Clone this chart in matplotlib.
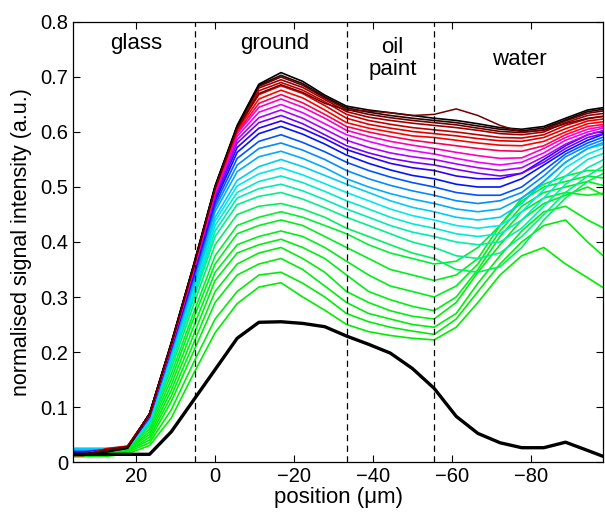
import matplotlib
matplotlib.use("Agg")
import matplotlib.pyplot as plt
import numpy as np
from matplotlib.colors import LinearSegmentedColormap

plt.rcParams['font.family'] = ['Liberation Sans', 'DejaVu Sans']

# sample positions (um)
positions = [38.8, 33.3, 27.7, 22.2, 16.6, 11.1, 5.5, 0.0, -5.6, -11.1, -16.7, -22.2, -27.8,
             -33.3, -38.9, -44.4, -50.0, -55.5, -61.1, -66.6, -72.2, -77.7, -83.3, -88.8, -94.4, -99.9]

# profiles, from lowest (green) to highest (black)
green_curves = [
    [0.010, 0.010, 0.010, 0.015, 0.030, 0.080, 0.160, 0.235, 0.288, 0.318, 0.326, 0.300, 0.276, 0.250, 0.237, 0.230, 0.225, 0.222, 0.245, 0.290, 0.340, 0.375, 0.390, 0.360, 0.335, 0.310],
    [0.010, 0.010, 0.012, 0.018, 0.035, 0.095, 0.180, 0.260, 0.310, 0.340, 0.345, 0.325, 0.300, 0.270, 0.255, 0.245, 0.238, 0.232, 0.260, 0.310, 0.360, 0.400, 0.430, 0.440, 0.400, 0.365],
    [0.012, 0.012, 0.012, 0.020, 0.040, 0.110, 0.200, 0.290, 0.340, 0.360, 0.370, 0.350, 0.320, 0.290, 0.270, 0.260, 0.250, 0.245, 0.270, 0.325, 0.375, 0.420, 0.455, 0.465, 0.440, 0.420],
    [0.012, 0.012, 0.014, 0.020, 0.045, 0.120, 0.215, 0.310, 0.360, 0.380, 0.390, 0.370, 0.345, 0.310, 0.290, 0.275, 0.265, 0.260, 0.290, 0.345, 0.395, 0.440, 0.470, 0.485, 0.500, 0.480],
    [0.014, 0.014, 0.015, 0.022, 0.050, 0.130, 0.230, 0.330, 0.380, 0.395, 0.405, 0.390, 0.370, 0.340, 0.310, 0.295, 0.283, 0.275, 0.300, 0.350, 0.410, 0.455, 0.480, 0.490, 0.485, 0.490],
    [0.015, 0.015, 0.016, 0.022, 0.055, 0.140, 0.245, 0.345, 0.395, 0.410, 0.420, 0.410, 0.390, 0.365, 0.340, 0.320, 0.310, 0.300, 0.320, 0.360, 0.420, 0.465, 0.490, 0.500, 0.510, 0.500],
    [0.016, 0.016, 0.018, 0.024, 0.060, 0.150, 0.260, 0.360, 0.415, 0.430, 0.440, 0.430, 0.410, 0.390, 0.370, 0.350, 0.340, 0.330, 0.340, 0.370, 0.430, 0.475, 0.500, 0.510, 0.520, 0.515],
    [0.018, 0.017, 0.018, 0.025, 0.065, 0.160, 0.270, 0.375, 0.430, 0.445, 0.455, 0.445, 0.430, 0.415, 0.395, 0.380, 0.370, 0.360, 0.365, 0.390, 0.430, 0.480, 0.505, 0.520, 0.530, 0.530],
]
cyan_curves = [
    [0.018, 0.018, 0.020, 0.025, 0.068, 0.170, 0.285, 0.395, 0.450, 0.465, 0.470, 0.460, 0.445, 0.425, 0.410, 0.395, 0.380, 0.370, 0.350, 0.345, 0.355, 0.390, 0.440, 0.480, 0.510, 0.530],
    [0.020, 0.020, 0.020, 0.026, 0.070, 0.178, 0.295, 0.410, 0.468, 0.483, 0.490, 0.478, 0.462, 0.445, 0.430, 0.415, 0.400, 0.390, 0.375, 0.370, 0.380, 0.410, 0.450, 0.490, 0.520, 0.545],
    [0.022, 0.022, 0.022, 0.026, 0.072, 0.183, 0.300, 0.420, 0.480, 0.497, 0.505, 0.493, 0.477, 0.460, 0.445, 0.430, 0.418, 0.410, 0.400, 0.395, 0.400, 0.425, 0.465, 0.505, 0.535, 0.555],
    [0.024, 0.023, 0.023, 0.027, 0.074, 0.188, 0.305, 0.430, 0.490, 0.510, 0.520, 0.508, 0.492, 0.475, 0.460, 0.445, 0.433, 0.425, 0.415, 0.410, 0.415, 0.440, 0.480, 0.520, 0.550, 0.565],
    [0.025, 0.024, 0.024, 0.027, 0.076, 0.192, 0.312, 0.438, 0.502, 0.524, 0.535, 0.522, 0.506, 0.490, 0.475, 0.460, 0.448, 0.440, 0.430, 0.425, 0.430, 0.455, 0.495, 0.535, 0.560, 0.575],
    [0.025, 0.025, 0.025, 0.028, 0.078, 0.196, 0.318, 0.445, 0.512, 0.537, 0.550, 0.537, 0.521, 0.505, 0.490, 0.475, 0.463, 0.455, 0.445, 0.440, 0.445, 0.470, 0.510, 0.545, 0.570, 0.580],
]
blue_curves = [
    [0.022, 0.021, 0.022, 0.026, 0.080, 0.200, 0.325, 0.455, 0.528, 0.555, 0.565, 0.552, 0.535, 0.515, 0.500, 0.488, 0.478, 0.470, 0.460, 0.455, 0.460, 0.480, 0.510, 0.545, 0.570, 0.585],
    [0.020, 0.020, 0.022, 0.026, 0.081, 0.203, 0.330, 0.462, 0.540, 0.570, 0.580, 0.567, 0.550, 0.530, 0.515, 0.503, 0.493, 0.485, 0.475, 0.470, 0.475, 0.490, 0.520, 0.555, 0.575, 0.590],
    [0.019, 0.019, 0.022, 0.026, 0.082, 0.205, 0.335, 0.468, 0.552, 0.583, 0.595, 0.581, 0.564, 0.545, 0.530, 0.518, 0.508, 0.500, 0.490, 0.485, 0.485, 0.500, 0.530, 0.560, 0.580, 0.595],
    [0.018, 0.018, 0.022, 0.026, 0.083, 0.207, 0.338, 0.474, 0.563, 0.597, 0.610, 0.596, 0.578, 0.558, 0.543, 0.531, 0.521, 0.515, 0.505, 0.500, 0.500, 0.515, 0.540, 0.565, 0.585, 0.600],
    [0.017, 0.017, 0.022, 0.026, 0.084, 0.209, 0.341, 0.479, 0.572, 0.607, 0.620, 0.606, 0.588, 0.568, 0.555, 0.543, 0.535, 0.530, 0.520, 0.515, 0.515, 0.525, 0.550, 0.575, 0.595, 0.605],
]
magenta_curves = [
    [0.016, 0.016, 0.021, 0.027, 0.085, 0.210, 0.344, 0.483, 0.580, 0.617, 0.630, 0.615, 0.595, 0.575, 0.562, 0.552, 0.545, 0.540, 0.532, 0.525, 0.520, 0.525, 0.545, 0.570, 0.590, 0.600],
    [0.015, 0.015, 0.021, 0.027, 0.085, 0.211, 0.346, 0.487, 0.586, 0.626, 0.640, 0.625, 0.605, 0.585, 0.572, 0.562, 0.555, 0.550, 0.542, 0.535, 0.530, 0.535, 0.555, 0.578, 0.595, 0.605],
    [0.015, 0.015, 0.022, 0.027, 0.086, 0.212, 0.348, 0.490, 0.592, 0.636, 0.650, 0.635, 0.615, 0.595, 0.583, 0.573, 0.566, 0.560, 0.552, 0.545, 0.540, 0.545, 0.562, 0.585, 0.600, 0.610],
    [0.014, 0.014, 0.022, 0.028, 0.086, 0.213, 0.350, 0.493, 0.597, 0.645, 0.660, 0.645, 0.625, 0.603, 0.592, 0.583, 0.576, 0.570, 0.563, 0.557, 0.552, 0.553, 0.570, 0.590, 0.605, 0.612],
]
red_curves = [
    [0.013, 0.013, 0.022, 0.028, 0.086, 0.214, 0.352, 0.495, 0.600, 0.652, 0.668, 0.653, 0.632, 0.610, 0.600, 0.592, 0.585, 0.580, 0.575, 0.570, 0.566, 0.565, 0.575, 0.595, 0.610, 0.615],
    [0.012, 0.012, 0.023, 0.028, 0.087, 0.214, 0.353, 0.497, 0.603, 0.660, 0.676, 0.662, 0.640, 0.617, 0.607, 0.600, 0.593, 0.590, 0.585, 0.580, 0.576, 0.575, 0.583, 0.600, 0.615, 0.620],
    [0.012, 0.012, 0.024, 0.029, 0.087, 0.215, 0.354, 0.498, 0.606, 0.668, 0.684, 0.670, 0.648, 0.625, 0.614, 0.607, 0.601, 0.597, 0.593, 0.588, 0.584, 0.583, 0.590, 0.606, 0.620, 0.625],
    [0.012, 0.012, 0.023, 0.028, 0.087, 0.215, 0.355, 0.499, 0.608, 0.675, 0.690, 0.676, 0.655, 0.632, 0.621, 0.614, 0.608, 0.604, 0.600, 0.595, 0.590, 0.589, 0.595, 0.612, 0.624, 0.630],
]
black_curves = [
    [0.013, 0.013, 0.021, 0.027, 0.087, 0.215, 0.355, 0.500, 0.609, 0.680, 0.695, 0.681, 0.659, 0.637, 0.627, 0.621, 0.616, 0.612, 0.608, 0.603, 0.597, 0.595, 0.600, 0.617, 0.630, 0.635],
    [0.013, 0.013, 0.020, 0.026, 0.088, 0.216, 0.356, 0.500, 0.610, 0.683, 0.700, 0.685, 0.662, 0.641, 0.632, 0.626, 0.621, 0.617, 0.613, 0.607, 0.601, 0.599, 0.604, 0.620, 0.634, 0.640],
    [0.014, 0.014, 0.019, 0.025, 0.088, 0.216, 0.356, 0.501, 0.611, 0.685, 0.703, 0.688, 0.664, 0.644, 0.636, 0.630, 0.625, 0.621, 0.617, 0.611, 0.605, 0.602, 0.607, 0.622, 0.637, 0.643],
    [0.015, 0.015, 0.018, 0.025, 0.088, 0.217, 0.357, 0.502, 0.612, 0.687, 0.708, 0.692, 0.667, 0.647, 0.640, 0.635, 0.630, 0.625, 0.621, 0.615, 0.608, 0.605, 0.610, 0.625, 0.640, 0.646],
]
odd_curve = [0.013, 0.013, 0.022, 0.028, 0.087, 0.215, 0.354, 0.498, 0.606, 0.670, 0.686, 0.672, 0.652, 0.640, 0.638, 0.635, 0.630, 0.632, 0.642, 0.630, 0.612, 0.600, 0.603, 0.615, 0.625, 0.630]
dry_curve = [0.014, 0.014, 0.014, 0.014, 0.014, 0.055, 0.112, 0.168, 0.225, 0.254, 0.255, 0.252, 0.246, 0.229, 0.214, 0.198, 0.170, 0.134, 0.083, 0.052, 0.035, 0.026, 0.026, 0.036, 0.021, 0.006]

boundaries = [5.0, -33.5, -55.5]
layer_names = ["glass", "ground", "oil\npaint", "water"]
layer_x = [20, -15, -45, -77]
layer_y = [0.76, 0.76, 0.733, 0.731]

cmap = LinearSegmentedColormap.from_list("wet", [
    (0.00, "#00ee00"), (0.22, "#00f020"), (0.30, "#00f090"), (0.40, "#00e8f0"),
    (0.50, "#0090ff"), (0.58, "#0000ff"), (0.64, "#8000ff"), (0.71, "#ff00ff"),
    (0.80, "#ff0000"), (0.90, "#a00000"), (1.00, "#000000")])

curves = green_curves + cyan_curves + blue_curves + magenta_curves + red_curves + black_curves
colors = cmap(np.linspace(0, 1, len(curves)))

fig = plt.figure(figsize=(6.05, 5.15), dpi=100)
ax = fig.add_axes([0.1207, 0.1029, 0.876, 0.8544])

for c, col in zip(curves, colors):
    ax.plot(positions, c, color=col, lw=1.2)
ax.plot(positions, odd_curve, color="#700000", lw=1.1)
ax.plot(positions, dry_curve, color="k", lw=2.4)

for b in boundaries:
    ax.axvline(b, color="k", lw=0.9, ls=(0, (5, 3.5)))

for name, x, y in zip(layer_names, layer_x, layer_y):
    ax.text(x, y, name, ha="center", va="center", fontsize=16, linespacing=1.05)

ax.set_xlim(36, -98.3)
ax.set_ylim(0, 0.8)
ax.set_xticks([20, 0, -20, -40, -60, -80])
ax.set_yticks(np.arange(0, 0.81, 0.1))
ax.set_yticklabels(["0", "0.1", "0.2", "0.3", "0.4", "0.5", "0.6", "0.7", "0.8"])
ax.tick_params(direction="in", top=True, right=True, length=5, width=0.8, labelsize=14.5)
ax.set_xlabel("position (μm)", fontsize=16, labelpad=1)
ax.set_ylabel("normalised signal intensity (a.u.)", fontsize=15.5, labelpad=6)
for s in ax.spines.values():
    s.set_linewidth(0.9)

fig.savefig("out.png", dpi=100, facecolor="white")
